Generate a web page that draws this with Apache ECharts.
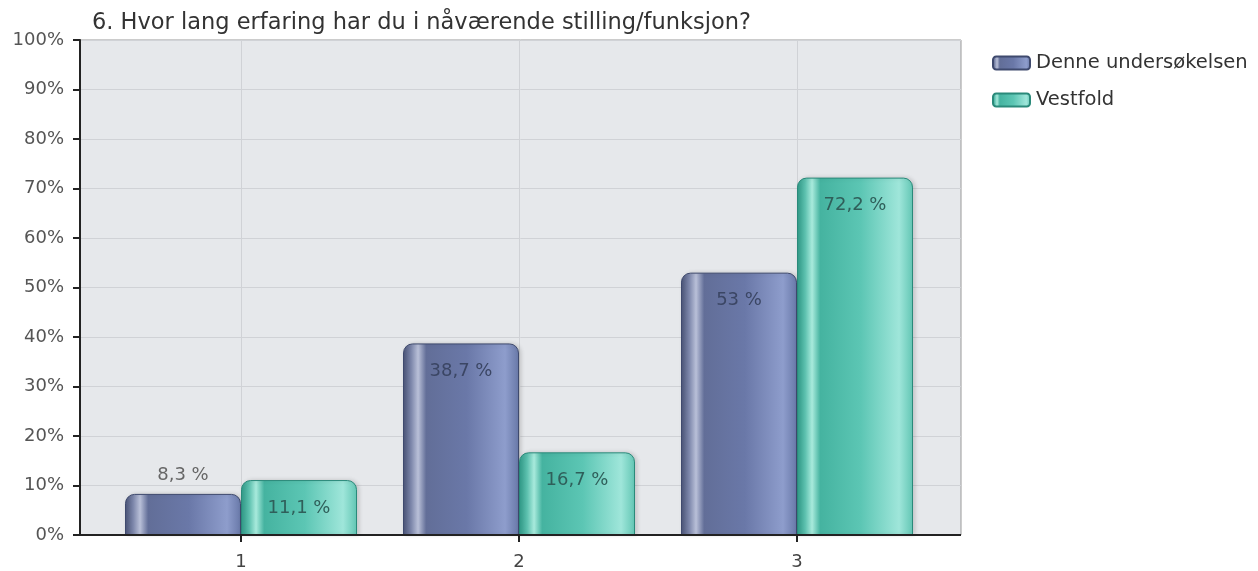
<!DOCTYPE html>
<html><head><meta charset="utf-8">
<script src="https://cdn.jsdelivr.net/npm/echarts@6/dist/echarts.min.js"></script>
<style>html,body{margin:0;padding:0;background:#fff}#c{width:1258px;height:571px}</style>
</head><body><div id="c"></div>
<script>
const title = '6. Hvor lang erfaring har du i nåværende stilling/funksjon?';
const categories = ['1', '2', '3'];
const seriesNames = ['Denne undersøkelsen', 'Vestfold'];
const denne = [8.3, 38.7, 53];
const vestfold = [11.1, 16.7, 72.2];
const yTicks = [0, 10, 20, 30, 40, 50, 60, 70, 80, 90, 100];

const font = '"DejaVu Sans", Verdana, sans-serif';
const blueGrad = new echarts.graphic.LinearGradient(0, 0, 1, 0, [
  {offset: 0, color: '#4a5478'}, {offset: 0.07, color: '#7c86aa'},
  {offset: 0.13, color: '#b9c0d8'}, {offset: 0.2, color: '#626e98'},
  {offset: 0.55, color: '#6a78a8'}, {offset: 0.88, color: '#8e9dcc'},
  {offset: 1, color: '#6878a8'}]);
const greenGrad = new echarts.graphic.LinearGradient(0, 0, 1, 0, [
  {offset: 0, color: '#2f9a88'}, {offset: 0.07, color: '#5cc0ae'},
  {offset: 0.13, color: '#a8eadc'}, {offset: 0.2, color: '#45b3a0'},
  {offset: 0.55, color: '#5cc6b4'}, {offset: 0.88, color: '#9fe6da'},
  {offset: 1, color: '#62c6b4'}]);

const fmt = v => String(v).replace('.', ',') + ' %';
function mk(vals, insideColor) {
  return vals.map(v => ({
    value: v,
    label: v < 10 ? {position: 'top', distance: 10, color: '#666'}
                  : {position: 'insideTop', distance: 19, color: insideColor}
  }));
}

const chart = echarts.init(document.getElementById('c'));
chart.setOption({
  animation: false,
  title: {text: title, left: 87, top: 7, textStyle: {fontFamily: font, fontSize: 22.5, fontWeight: 'normal', color: '#333'}},
  legend: {
    orient: 'vertical', left: 987, top: 48, itemWidth: 37, itemHeight: 13, itemGap: 17,
    data: seriesNames,
    textStyle: {fontFamily: font, fontSize: 19.5, color: '#333', padding: [0, 0, 0, 1]}
  },
  grid: [
    {left: 80, right: 297, top: 40, bottom: 36, show: true, backgroundColor: '#e6e8eb', borderColor: '#999', borderWidth: 1},
    {left: 102, right: 322, top: 40, bottom: 36},
    {left: 241, right: 461, top: 40, bottom: 36}
  ],
  xAxis: [
    {gridIndex: 0, type: 'category', data: [''], show: false},
    {gridIndex: 1, type: 'category', data: categories,
     axisLine: {show: false}, axisTick: {show: true, length: 7, alignWithLabel: true, lineStyle: {color: '#222', width: 2}},
     axisLabel: {fontFamily: font, fontSize: 18, color: '#444', margin: 18},
     splitLine: {show: false}},
    {gridIndex: 2, type: 'category', data: categories, boundaryGap: false,
     axisLine: {show: false}, axisTick: {show: false}, axisLabel: {show: false},
     splitLine: {show: true, interval: 0, lineStyle: {color: '#d0d2d6'}}}
  ],
  yAxis: [
    {gridIndex: 0, type: 'value', min: 0, max: 100, interval: 10,
     axisLine: {show: true, lineStyle: {color: '#222', width: 2}},
     axisTick: {show: true, length: 7, lineStyle: {color: '#222', width: 2}},
     axisLabel: {fontFamily: font, fontSize: 18, color: '#555', margin: 16, formatter: v => yTicks.includes(v) ? v + '%' : ''},
     splitLine: {show: true, lineStyle: {color: '#d0d2d6'}}},
    {gridIndex: 1, type: 'value', min: 0, max: 100, interval: 10, show: false, splitLine: {show: false}},
    {gridIndex: 2, type: 'value', min: 0, max: 100, interval: 10, show: false, splitLine: {show: false}}
  ],
  series: [
    {name: seriesNames[0], type: 'bar', xAxisIndex: 1, yAxisIndex: 1, barWidth: 116, barGap: '0%', z: 3,
     data: mk(denne, '#3b4664'),
     itemStyle: {color: blueGrad, borderColor: '#3f4a6e', borderWidth: 1, borderRadius: [9, 9, 0, 0],
       shadowColor: 'rgba(0,0,0,0.15)', shadowBlur: 4, shadowOffsetX: 2},
     label: {show: true, fontFamily: font, fontSize: 18, formatter: p => fmt(p.value)}},
    {name: seriesNames[1], type: 'bar', xAxisIndex: 1, yAxisIndex: 1, barWidth: 116, z: 3,
     data: mk(vestfold, '#2f5f5a'),
     itemStyle: {color: greenGrad, borderColor: '#2a8a7a', borderWidth: 1, borderRadius: [9, 9, 0, 0],
       shadowColor: 'rgba(0,0,0,0.15)', shadowBlur: 4, shadowOffsetX: 2},
     label: {show: true, fontFamily: font, fontSize: 18, formatter: p => fmt(p.value)}},
    {type: 'line', xAxisIndex: 0, yAxisIndex: 0, data: [], silent: true, z: 5,
     markLine: {silent: true, symbol: 'none', label: {show: false}, lineStyle: {color: '#222', width: 2, type: 'solid'},
       data: [{yAxis: 0}]}}
  ]
});
</script></body></html>
